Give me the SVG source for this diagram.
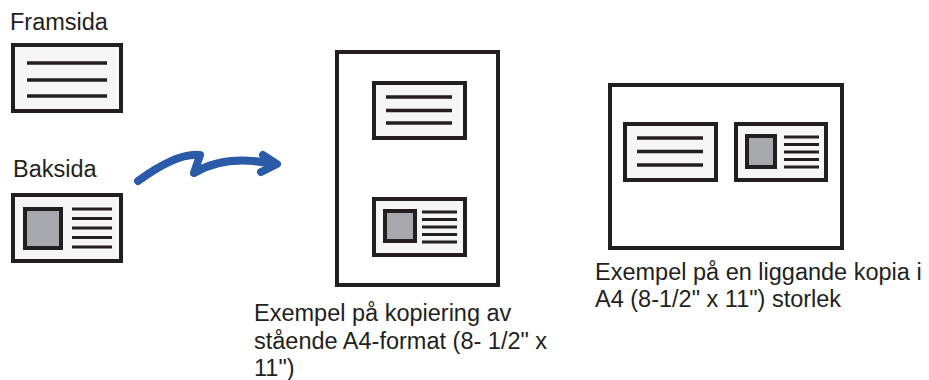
<svg xmlns="http://www.w3.org/2000/svg" width="929" height="380" viewBox="0 0 929 380">
<style>
  .lbl { font-family: "Liberation Sans", Arial, sans-serif; font-size: 23.5px; fill: #231f20; }
  .page { fill: #ffffff; stroke: #231f20; stroke-width: 4; }
  .card { fill: #f6f6f6; stroke: #231f20; stroke-width: 4; }
  .photo { fill: #a7a9ac; stroke: #231f20; stroke-width: 4; }
  .ln { stroke: #231f20; stroke-width: 3.5; fill: none; }
  .sln { stroke: #231f20; stroke-width: 3; fill: none; }
  .arrow { fill: none; stroke: #2b5ba8; stroke-width: 8; stroke-linecap: round; stroke-linejoin: round; }
</style>
<rect width="929" height="380" fill="#ffffff"/>

<g id="front">
  <text class="lbl" x="10" y="30">Framsida</text>
  <rect class="card" x="13" y="45" width="108" height="66"/>
  <path class="ln" d="M27,63H107M27,80H107M27,96H107"/>
</g>

<g id="back">
  <text class="lbl" x="13" y="177">Baksida</text>
  <rect class="card" x="13" y="195" width="108" height="66"/>
  <rect class="photo" x="25" y="209" width="36" height="39"/>
  <path class="sln" d="M72,209H112M72,218.5H112M72,228H112M72,237.5H112M72,247H112"/>
</g>

<g id="connectors">
  <path class="arrow" d="M138,181 C160,165 183,153 200,155 L194,173 C214,161 240,158 268,163"/>
  <path class="arrow" d="M263,155 L277,164 L261,172"/>
</g>

<g id="portrait">
  <rect class="page" x="337" y="52" width="161" height="233"/>
  <rect class="card" x="374" y="83" width="91" height="55"/>
  <path class="ln" d="M386,97H452M386,110.5H452M386,123H452"/>
  <rect class="card" x="374" y="199" width="91" height="56"/>
  <rect class="photo" x="385" y="211" width="30" height="30"/>
  <path class="sln" d="M422,212H457M422,219.5H457M422,227H457M422,234.5H457M422,242H457"/>
  <text class="lbl" x="254" y="321">Exempel på kopiering av</text>
  <text class="lbl" x="254" y="349">stående A4-format (8- 1/2" x</text>
  <text class="lbl" x="254" y="376">11")</text>
</g>

<g id="landscape">
  <rect class="page" x="610" y="85" width="232" height="163"/>
  <rect class="card" x="625" y="124" width="91" height="56"/>
  <path class="ln" d="M637,138H703M637,151.5H703M637,165H703"/>
  <rect class="card" x="736" y="124" width="90" height="56"/>
  <rect class="photo" x="747" y="136" width="28" height="31"/>
  <path class="sln" d="M784,137H819M784,144.5H819M784,152H819M784,159.5H819M784,167H819"/>
  <text class="lbl" x="595" y="280">Exempel på en liggande kopia i</text>
  <text class="lbl" x="595" y="307">A4 (8-1/2" x 11") storlek</text>
</g>
</svg>
